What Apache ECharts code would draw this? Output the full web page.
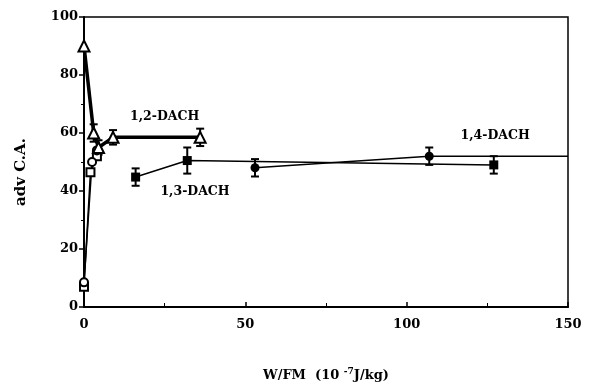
<!DOCTYPE html>
<html>
<head>
<meta charset="utf-8">
<script src="https://cdn.jsdelivr.net/npm/echarts@6/dist/echarts.min.js"></script>
<style>
  html, body { margin: 0; padding: 0; background: #fff; }
  #chart { width: 593px; height: 385px; }
</style>
</head>
<body>
<div id="chart"></div>
<script>
// values
const dach12 = [[0, 90], [3, 60], [4.5, 55], [9, 58.5], [36, 58.5]];
const openCircles = [[0, 8.5], [2.5, 50], [4, 54]];
const openSquares = [[0, 7], [2, 46.5], [4, 52]];
const dach13 = [[16, 44.8], [32, 50.5], [127, 49]];
const dach14 = [[53, 48], [107, 52], [150, 52]];
// [x, y, +/- error]
const errBars = [[3, 60, 3], [9, 58.5, 2.5], [36, 58.5, 3], [16, 44.8, 3], [32, 50.5, 4.5],
                 [127, 49, 3], [53, 48, 3], [107, 52, 3], [4.5, 55, 2.5]];
const labels = [['1,2-DACH', 25, 65.5], ['1,3-DACH', 34.4, 39.7], ['1,4-DACH', 127.4, 59]];

const font = 'DejaVu Serif';
const chart = echarts.init(document.getElementById('chart'));

const option = {
  animation: false,
  grid: {
    left: 84, right: 25, top: 17, bottom: 78, outerBoundsMode: 'none',
    show: true, borderColor: '#000', borderWidth: 1.5
  },
  xAxis: {
    type: 'value', min: 0, max: 150, interval: 50,
    axisLine: { lineStyle: { color: '#000', width: 2 } },
    axisTick: { inside: true, length: 5, lineStyle: { color: '#000', width: 1.5 } },
    minorTick: { show: true, splitNumber: 2, length: 4, lineStyle: { color: '#000' } },
    splitLine: { show: false },
    axisLabel: { color: '#000', fontFamily: font, fontWeight: 'bold', fontSize: 13, margin: 11 },
    name: '{b|W/FM  (10 }{s|-7}{b|J/kg)}',
    nameLocation: 'middle', nameGap: 60,
    nameTextStyle: {
      rich: {
        b: { fontFamily: font, fontWeight: 'bold', fontSize: 13, color: '#000' },
        s: { fontFamily: font, fontWeight: 'bold', fontSize: 9, color: '#000', verticalAlign: 'top', padding: [0, 0, 8, 0] }
      }
    }
  },
  yAxis: {
    type: 'value', min: 0, max: 100, interval: 20,
    axisLine: { show: true, lineStyle: { color: '#000', width: 2 } },
    axisTick: { show: true, length: 5, lineStyle: { color: '#000', width: 1.5 } },
    minorTick: { show: true, splitNumber: 2, length: 3, lineStyle: { color: '#000' } },
    splitLine: { show: false },
    axisLabel: { color: '#000', fontFamily: font, fontWeight: 'bold', fontSize: 13, margin: 6 },
    name: 'adv C.A.',
    nameLocation: 'middle', nameGap: 55,
    nameTextStyle: { color: '#000', fontFamily: font, fontWeight: 'bold', fontSize: 15, padding: [0, 20, 0, 0] }
  },
  series: [
    {
      type: 'custom',
      data: errBars,
      renderItem: function (params, api) {
        const x = api.value(0), y = api.value(1), e = api.value(2);
        const top = api.coord([x, y + e]);
        const bot = api.coord([x, y - e]);
        const w = 4;
        const style = { stroke: '#000', lineWidth: 2 };
        return {
          type: 'group',
          children: [
            { type: 'line', shape: { x1: top[0], y1: top[1], x2: bot[0], y2: bot[1] }, style: style },
            { type: 'line', shape: { x1: top[0] - w, y1: top[1], x2: top[0] + w, y2: top[1] }, style: style },
            { type: 'line', shape: { x1: bot[0] - w, y1: bot[1], x2: bot[0] + w, y2: bot[1] }, style: style }
          ]
        };
      },
      z: 1
    },
    {
      type: 'line', data: openSquares, symbol: 'rect', symbolSize: 8,
      lineStyle: { color: '#000', width: 1.5 },
      itemStyle: { color: '#fff', borderColor: '#000', borderWidth: 2 }, z: 2
    },
    {
      type: 'line', data: openCircles, symbol: 'circle', symbolSize: 8,
      lineStyle: { color: '#000', width: 1.5 },
      itemStyle: { color: '#fff', borderColor: '#000', borderWidth: 2 }, z: 2
    },
    {
      type: 'line', data: dach12, symbol: 'triangle', symbolSize: 11,
      lineStyle: { color: '#000', width: 3.5 },
      itemStyle: { color: '#fff', borderColor: '#000', borderWidth: 2 }, z: 3
    },
    {
      type: 'line', data: dach13, symbol: 'rect', symbolSize: 9,
      lineStyle: { color: '#000', width: 1.5 },
      itemStyle: { color: '#000' }, z: 2
    },
    {
      type: 'line', symbol: 'circle', symbolSize: 9,
      data: dach14.map((d, i) => i === dach14.length - 1 ? { value: d, symbol: 'none' } : d),
      lineStyle: { color: '#000', width: 1.5 },
      itemStyle: { color: '#000' }, z: 2
    },
    {
      type: 'scatter', symbolSize: 1,
      itemStyle: { color: '#000', opacity: 0 },
      data: labels.map(l => ({ value: [l[1], l[2]], name: l[0] })),
      label: {
        show: true, position: 'inside', formatter: p => p.name,
        color: '#000', opacity: 1, textBorderWidth: 0,
        fontFamily: font, fontWeight: 'bold', fontSize: 12.5
      },
      z: 4
    }
  ]
};
chart.setOption(option);
</script>
</body>
</html>
